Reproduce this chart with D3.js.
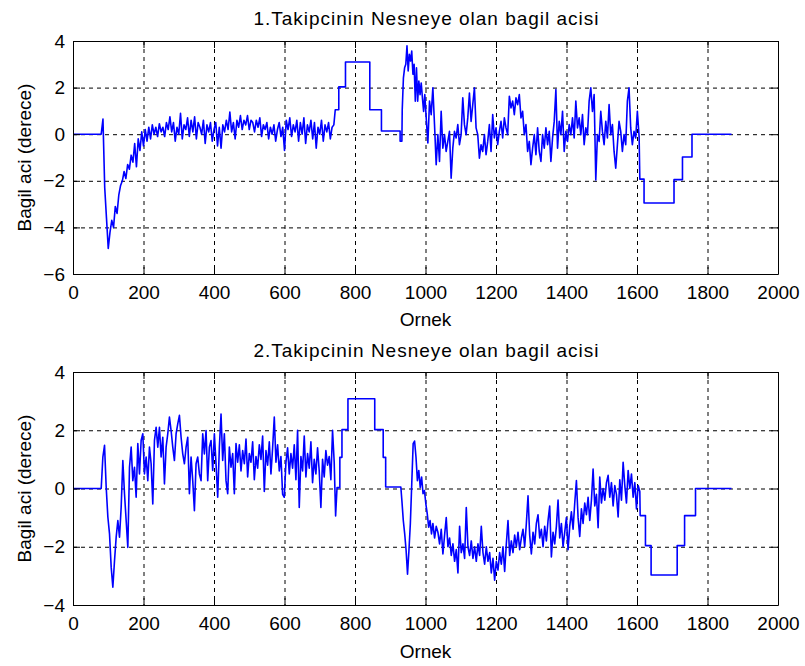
<!DOCTYPE html>
<html>
<head>
<meta charset="utf-8">
<script src="https://cdn.jsdelivr.net/npm/d3@7"></script>
<style>
  body { margin: 0; background: #fff; }
  text { font-family: "Liberation Sans", Arial, sans-serif; }
</style>
</head>
<body>
<svg width="805" height="666"></svg>
<script>
// tick labels and texts
const xTicks = [0, 200, 400, 600, 800, 1000, 1200, 1400, 1600, 1800, 2000];
const yTicks1 = [-6, -4, -2, 0, 2, 4];
const yTicks2 = [-4, -2, 0, 2, 4];
const titles = ['1.Takipcinin Nesneye olan bagil acisi', '2.Takipcinin Nesneye olan bagil acisi'];
const xLabel = 'Ornek';
const yLabel = 'Bagil aci (derece)';

// --- tracker 1: flat / step parts as [sample, angle], noisy parts as values over a sample range
const lead1 = [[0, 0], [80, 0]];
const noise1aRange = [80, 740];
const noise1a = [0.0, 0.65, -2.3, -3.6, -4.9, -4.2, -3.7, -4.0, -3.1, -3.4,
  -2.6, -2.2, -2.0, -1.6, -1.9, -1.3, -1.5, -0.9, -1.2, -0.4,
  -1.4, -0.2, -0.7, 0.1, -0.5, 0.2, -0.3, 0.3, -0.2, 0.4,
  0.0, 0.3, -0.1, 0.45, 0.1, 0.3, -0.1, 0.5, 0.2, 0.75,
  0.1, 0.5, -0.3, 0.3, 0.0, 0.9, -0.2, 0.4, 0.2, 0.7,
  -0.1, 0.6, 0.1, 0.75, -0.2, 0.5, 0.3, 0.0, 0.6, -0.4,
  0.4, 0.1, 0.5, -0.3, 0.2, 0.5, -0.5, 0.3, -0.6, 0.4,
  0.1, 0.6, 0.2, 0.95, 0.1, 0.5, -0.2, 0.6, 0.3, 0.8,
  0.2, 0.6, 0.4, 0.8, 0.2, 0.6, 0.5, 0.1, 0.6, 0.3,
  0.7, -0.1, 0.4, 0.2, 0.5, -0.2, 0.3, 0.0, 0.4, -0.3,
  0.2, 0.5, -0.1, 0.3, -0.7, 0.6, 0.2, 0.7, -0.1, 0.4,
  0.1, 0.6, -0.3, 0.5, 0.0, 0.7, -0.4, 0.4, 0.1, 0.6,
  -0.2, 0.5, -0.6, 0.3, 0.0, 0.6, -0.3, 0.4, 0.1, 0.5,
  -0.2, 0.3, 0.4];
const steps1a = [[744, 1.05], [754, 1.05], [754, 2.03], [773, 2.03], [773, 3.1], [842, 3.1],
  [842, 1.05], [875, 1.05], [875, 0.14], [928, 0.14], [928, -0.3], [933, -0.3]];
const noise1bRange = [934, 998];
const noise1b = [1.06, 2.42, 2.85, 3.0, 3.79, 2.71, 3.43, 3.14, 3.57, 2.57,
  3.0, 1.42, 2.85, 1.42, 2.28, 1.7, 2.2, 1.56, 0.98, 1.7];
const noise1cRange = [1002, 1601];
const noise1c = [0.7, -0.38, 1.42, 0.84, 1.99, 0.41, -1.31, -0.02, -1.17, 0.98,
  -0.6, -0.02, -0.74, -0.31, 0.12, -1.89,
  -0.6, 0.12, -0.16, 0.41, -0.45, -0.02, 1.56, 0.41, -0.02, 0.7,
  1.77, 0.55, 1.27, 1.99, 0.27, -0.02, -1.03, -0.45, -0.74, -0.02,
  -0.88, -0.31, 0.41, -0.74, 0.84, -0.16, 0.27, -0.45, 0.12, 0.55,
  -0.16, 0.7, 0.27, -0.02, 1.63, 1.13, 1.42, 0.84, 1.56, 1.27,
  1.7, 0.7, 0.98, -0.02, 0.41, -0.74, -0.31, -1.31, -0.6, -0.02,
  -0.88, 0.27, -0.74, -1.17, -0.02, -0.6, 0.27, -0.45, 0.12, -1.17,
  -0.16, 0.55, 1.92, -0.6, 0.55, -0.02, 0.98, -0.74, 0.12, -0.31,
  0.41, -0.02, 0.7, -0.16, 1.42, 0.27, 0.7, -0.02, 0.84, -0.45,
  0.27, -0.02, 1.42, 1.99, 0.98, 1.7, -1.96, -0.02, -0.31, 0.98,
  0.12, -0.45, 0.55, -0.16, 1.27, -0.02, 0.41, -0.74, -1.46, -0.45,
  0.55, 0.12, -0.74, -0.02, -0.45, 1.42, 1.99, 0.27, -0.45, 0.12,
  -0.16, 0.98];
const steps1b = [[1606, -0.1], [1608, -1.93], [1620, -1.93], [1620, -2.95], [1705, -2.95],
  [1705, -1.95], [1729, -1.95], [1729, -0.98], [1756, -0.98], [1756, 0], [1868, 0]];

// --- tracker 2
const lead2 = [[0, 0], [80, 0]];
const noise2aRange = [80, 741];
const noise2a = [0.0, 1.08, 1.48, 0.04, -0.98, -1.56, -2.7, -3.39, -2.48, -1.67,
  -1.1, -1.67, -0.64, 0.96, -0.18, -1.1, -2.02, 0.73, 1.42, 0.27,
  0.73, -0.3, 1.54, 0.5, 1.65, 1.88, 0.5, 1.08, 0.27, 1.42,
  0.85, -0.53, 1.65, 2.1, 1.42, 2.1, 1.08, 1.76, 0.16, 1.42,
  1.88, 2.45, 1.99, 1.42, 0.96, 1.88, 2.22, 2.51, 1.76, 1.19,
  0.85, 1.42, 1.76, -0.18, 1.08, 0.27, -0.76, 0.85, 1.08, 0.5,
  0.27, 1.88, 1.19, 1.99, 0.27, 1.42, 1.65, 0.62, 1.88, 0.85,
  -0.3, 1.42, 2.56, 0.96, 1.88, 0.27, -0.18, 1.42, 0.73, 1.2,
  -0.18, 1.54,
  0.9, 1.5, 0.6, 1.3, 0.85, 1.7, 0.4, 1.2, 0.9, 1.6,
  0.3, 1.1, 0.7, 1.5, 1.0, 1.8, -0.1, 1.3, 0.8, 1.6,
  0.5, 1.4, 2.45, 0.9, 1.5, 0.6, 1.1, -0.2, -0.3, 0.9,
  1.4, 0.5, 1.2, 0.7, 1.5, 0.3, 2.0, -0.65, 1.1, 0.6,
  1.8, 0.4, 1.2, 0.7, 1.6, 0.2, 1.0, 0.5, 1.4, 0.6,
  -0.65, 1.0, 0.4, 1.3, 0.8, 1.1, 0.3, 2.0, 0.9];
const steps2a = [[745, -0.94], [749, 0.03], [757, 0.03], [757, 1.07], [763, 1.07], [763, 2.02],
  [780, 2.02], [780, 3.08], [856, 3.08], [856, 2.02], [880, 2.02], [880, 1.07], [887, 1.07],
  [887, 0.05], [930, 0.05]];
const noise2bRange = [933, 1017];
const noise2b = [-0.41, -1.1, -1.56, -2.13, -2.94, -2.13, -1.21, 0.16, 1.54, 1.63,
  1.08, 0.27, 0.62, 0.04, 0.39, -0.18, -0.07, -0.53, -0.87, -1.33, -1.1, -1.56];
const noise2cRange = [1021, 1608];
const noise2c = [-1.2, -1.7, -1.3, -1.5, -1.9, -1.4, -2.25, -1.6, -1.0, -2.0,
  -1.7, -2.3, -1.9, -2.5, -2.1, -2.9, -1.3, -2.2, -1.9, -2.4,
  -0.65, -2.0, -2.3, -1.8, -2.4, -2.0, -2.5, -1.9, -2.3, -1.3,
  -2.2, -2.6, -2.0, -2.5, -2.2, -2.9, -2.4, -3.15, -2.5, -2.8,
  -2.2, -2.6, -2.0, -2.85, -1.9, -1.1, -2.3, -1.8, -2.2, -1.6,
  -2.0, -1.5, -2.1, -1.7, -1.4, -2.0, -1.2, -0.25, -1.6, -2.25,
  -1.5, -1.9, -1.2, -0.9, -1.7, -1.4, -2.0, -1.3, -1.8, -1.1,
  -0.6, -2.35, -1.5, -1.9, -1.3, -0.4, -1.7, -1.2, -2.0, -1.5,
  -1.0, -2.1, -1.3, -0.8, -1.4, -0.5, 0.27, -1.0, -1.65, -0.7,
  -1.2, -0.5, -0.9, -0.3, -1.1, -0.4, 0.67, -0.6, -0.2, -1.35,
  0.39, -0.5, 0.0, -0.4, 0.2, 0.45, -0.3, 0.2, -0.6, 0.1,
  -0.2, -0.98, 0.3, -0.4, 0.9, 0.1, -0.5, 0.62, 0.0, 0.5,
  -0.3, 0.2, -0.7, 0.1, -0.1];
const steps2b = [[1609, -0.93], [1624, -0.93], [1624, -1.96], [1640, -1.96], [1640, -2.97],
  [1714, -2.97], [1714, -1.96], [1735, -1.96], [1735, -0.93], [1766, -0.93], [1766, 0], [1868, 0]];

function spread(range, vals) {
    return vals.map(function (v, i) {
        return [range[0] + i * (range[1] - range[0]) / (vals.length - 1), v];
    });
}

const series1 = [].concat(lead1, spread(noise1aRange, noise1a), steps1a,
    spread(noise1bRange, noise1b), spread(noise1cRange, noise1c), steps1b);
const series2 = [].concat(lead2, spread(noise2aRange, noise2a), steps2a,
    spread(noise2bRange, noise2b), spread(noise2cRange, noise2c), steps2b);

const svg = d3.select('svg');
const fontSize = 19;
const x = d3.scaleLinear().domain([0, 2000]).range([73, 778]);

const panels = [
    {top: 41, bottom: 274, yTicks: yTicks1, data: series1, title: titles[0], titleY: 25, labelY: 326},
    {top: 372, bottom: 605, yTicks: yTicks2, data: series2, title: titles[1], titleY: 357, labelY: 658}
];

panels.forEach(function (p) {
    const y = d3.scaleLinear()
        .domain([p.yTicks[0], p.yTicks[p.yTicks.length - 1]])
        .range([p.bottom, p.top]);
    const g = svg.append('g');

    // grid
    g.selectAll('line.gx')
        .data(xTicks.slice(1, -1))
        .enter().append('line')
        .attr('x1', function (d) { return x(d) + 0.5; })
        .attr('x2', function (d) { return x(d) + 0.5; })
        .attr('y1', p.top).attr('y2', p.bottom)
        .attr('stroke', '#000').attr('stroke-dasharray', '4,4');
    g.selectAll('line.gy')
        .data(p.yTicks.slice(1, -1))
        .enter().append('line')
        .attr('y1', function (d) { return y(d) + 0.5; })
        .attr('y2', function (d) { return y(d) + 0.5; })
        .attr('x1', x.range()[0]).attr('x2', x.range()[1])
        .attr('stroke', '#000').attr('stroke-dasharray', '4,4');

    // signal
    const line = d3.line()
        .x(function (d) { return x(d[0]); })
        .y(function (d) { return y(d[1]); });
    g.append('path')
        .datum(p.data)
        .attr('d', line)
        .attr('fill', 'none')
        .attr('stroke', '#0000ff')
        .attr('stroke-width', 1.6)
        .attr('stroke-linejoin', 'round');

    // axes (inward ticks on all sides, box)
    const axes = [
        [d3.axisBottom(x).tickValues(xTicks).tickFormat(d3.format('d')), 'translate(0,' + p.bottom + ')'],
        [d3.axisTop(x).tickValues(xTicks).tickFormat(''), 'translate(0,' + p.top + ')'],
        [d3.axisLeft(y).tickValues(p.yTicks).tickFormat(d3.format('d')), 'translate(' + x.range()[0] + ',0)'],
        [d3.axisRight(y).tickValues(p.yTicks).tickFormat(''), 'translate(' + x.range()[1] + ',0)']
    ];
    axes.forEach(function (a, i) {
        const ax = a[0].tickSizeInner(-7).tickSizeOuter(0).tickPadding(i === 0 ? 12 : 8);
        const ag = g.append('g').attr('transform', a[1]).call(ax);
        ag.attr('font-size', fontSize).attr('font-family', '"Liberation Sans", Arial, sans-serif');
        ag.selectAll('path, line').attr('stroke', '#000');
        ag.selectAll('text').attr('fill', '#000');
    });

    // texts
    svg.append('text')
        .attr('x', (x.range()[0] + x.range()[1]) / 2 + 0.5)
        .attr('y', p.titleY)
        .attr('text-anchor', 'middle')
        .attr('font-size', fontSize)
        .attr('textLength', 345)
        .attr('lengthAdjust', 'spacing')
        .text(p.title);
    svg.append('text')
        .attr('x', (x.range()[0] + x.range()[1]) / 2)
        .attr('y', p.labelY)
        .attr('text-anchor', 'middle')
        .attr('font-size', fontSize)
        .text(xLabel);
    svg.append('text')
        .attr('transform', 'translate(31,' + (p.top + p.bottom) / 2 + ') rotate(-90)')
        .attr('text-anchor', 'middle')
        .attr('font-size', fontSize)
        .text(yLabel);
});
</script>
</body>
</html>
